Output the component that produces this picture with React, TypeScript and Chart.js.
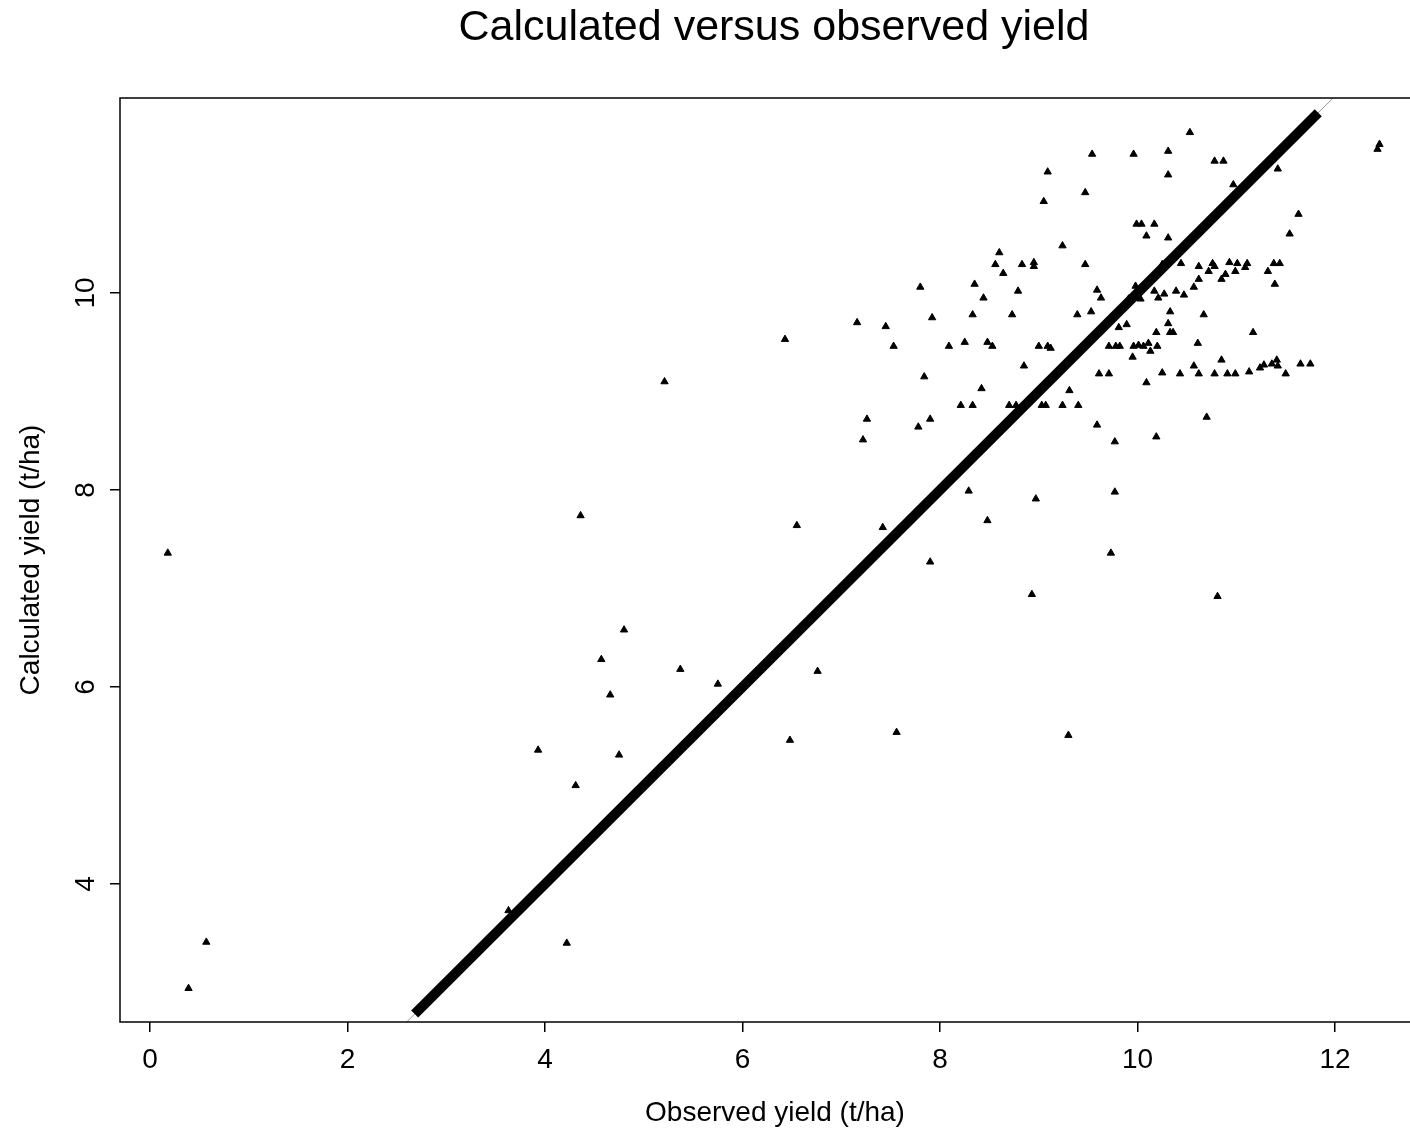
import React, { useEffect, useRef } from "react";
import { Chart, registerables } from "chart.js";

Chart.register(...registerables);

// Observed yield (t/ha) for each field record
const observed = [
  0.18, 0.39, 0.57, 3.63, 3.93, 4.22, 4.31, 4.36, 4.57, 4.66,
  4.75, 4.80, 5.21, 5.37, 5.75, 6.43, 6.48, 6.55, 6.76, 7.16,
  7.22, 7.26, 7.42, 7.45, 7.53, 7.56, 7.78, 7.80, 7.84, 7.90,
  7.92, 7.90, 8.09, 8.21, 8.25, 8.29, 8.33, 8.33, 8.35, 8.42,
  8.44, 8.48, 8.53, 8.48, 8.56, 8.60, 8.64, 8.70, 8.73, 8.77,
  8.79, 8.83, 8.85, 8.95, 8.95, 8.93, 8.97, 9.00, 9.03, 9.07,
  9.05, 9.09, 9.09, 9.12, 9.24, 9.24, 9.31, 9.30, 9.39, 9.40,
  9.47, 9.47, 9.53, 9.54, 9.59, 9.59, 9.61, 9.63, 9.71, 9.71,
  9.73, 9.73, 9.77, 9.77, 9.78, 9.81, 9.82, 9.89, 9.91, 9.95,
  9.96, 9.96, 9.98, 9.99, 10.01, 10.03, 10.04, 10.06, 10.09, 10.09,
  10.11, 10.13, 10.17, 10.17, 10.19, 10.19, 10.20, 10.21, 10.25, 10.25,
  10.27, 10.31, 10.31, 10.31, 10.31, 10.33, 10.33, 10.36, 10.39, 10.44,
  10.43, 10.47, 10.53, 10.57, 10.57, 10.61, 10.62, 10.62, 10.62, 10.67,
  10.70, 10.72, 10.76, 10.78, 10.78, 10.78, 10.81, 10.85, 10.85, 10.87,
  10.89, 10.91, 10.93, 10.97, 10.99, 10.99, 11.01, 11.09, 11.11, 11.13,
  11.17, 11.24, 11.28, 11.32, 11.36, 11.38, 11.39, 11.41, 11.42, 11.42,
  11.44, 11.50, 11.54, 11.63, 11.65, 11.75, 12.45, 12.43,
];

// Calculated (modelled) yield (t/ha), same order as observed
const calculated = [
  7.36, 2.94, 3.41, 3.73, 5.36, 3.40, 5.00, 7.74, 6.28, 5.92,
  5.31, 6.58, 9.10, 6.18, 6.03, 9.53, 5.46, 7.64, 6.16, 9.70,
  8.51, 8.72, 7.62, 9.66, 9.46, 5.54, 8.64, 10.06, 9.15, 8.72,
  9.75, 7.27, 9.46, 8.86, 9.50, 7.99, 8.86, 9.78, 10.09, 9.03,
  9.95, 9.50, 9.46, 7.69, 10.29, 10.41, 10.20, 8.86, 9.78, 8.86,
  10.02, 10.29, 9.26, 10.31, 10.27, 6.94, 7.91, 9.46, 8.86, 8.86,
  10.93, 11.23, 9.46, 9.44, 10.48, 8.86, 9.01, 5.51, 9.78, 8.86,
  11.02, 10.29, 9.81, 11.41, 10.03, 8.66, 9.18, 9.95, 9.18, 9.46,
  9.75, 7.36, 7.98, 8.49, 9.46, 9.65, 9.46, 9.68, 9.94, 9.35,
  11.41, 9.46, 10.07, 10.70, 9.47, 9.94, 10.70, 9.46, 10.58, 9.09,
  9.49, 9.41, 10.70, 10.02, 8.54, 9.60, 9.46, 9.95, 10.29, 9.19,
  9.99, 11.44, 11.20, 10.56, 9.69, 9.81, 9.60, 9.60, 10.02, 10.30,
  9.18, 9.98, 11.63, 10.06, 9.26, 9.49, 9.18, 10.27, 10.14, 9.78,
  8.74, 10.22, 10.30, 9.18, 11.34, 10.27, 6.92, 10.14, 9.32, 11.34,
  10.19, 9.18, 10.31, 11.10, 10.22, 9.18, 10.30, 10.26, 10.30, 9.20,
  9.60, 9.24, 9.27, 10.22, 9.28, 10.30, 10.09, 9.32, 9.26, 11.26,
  10.30, 9.18, 10.60, 10.80, 9.28, 9.28, 11.51, 11.46,
];

// 1:1 reference line (extends across the whole plot, clipped to it)
const identityX = [-1, 14];
// Thick segment drawn along the 1:1 line
const segmentX = [2.68, 11.83];

const xTicks = [0, 2, 4, 6, 8, 10, 12];
const yTicks = [4, 6, 8, 10];

const TITLE = "Calculated versus observed yield";
const X_TITLE = "Observed yield (t/ha)";
const Y_TITLE = "Calculated yield (t/ha)";

const FONT = '"Liberation Sans", Arial, Helvetica, sans-serif';
const W = 1410;
const H = 1133;

const decorations = {
  id: "decorations",
  afterDraw(chart: any) {
    const { ctx, chartArea: a, scales } = chart;
    const ys = scales.y;
    ctx.save();
    // plot box (right edge runs past the canvas)
    ctx.strokeStyle = "#000";
    ctx.lineWidth = 1.5;
    ctx.strokeRect(a.left, a.top, a.right - a.left + 30, a.bottom - a.top);

    ctx.fillStyle = "#000";
    ctx.textAlign = "center";
    ctx.textBaseline = "middle";

    ctx.font = `43px ${FONT}`;
    ctx.fillText(TITLE, 774, 28);

    ctx.font = `28px ${FONT}`;
    ctx.fillText(X_TITLE, 775, 1113);

    ctx.save();
    ctx.translate(31, 560);
    ctx.rotate(-Math.PI / 2);
    ctx.fillText(Y_TITLE, 0, 0);
    ctx.restore();

    // y tick labels, parallel to the axis
    for (const v of yTicks) {
      ctx.save();
      ctx.translate(86, ys.getPixelForValue(v));
      ctx.rotate(-Math.PI / 2);
      ctx.fillText(String(v), 0, 0);
      ctx.restore();
    }
    ctx.restore();
  },
};

export default function App() {
  const ref = useRef<HTMLCanvasElement | null>(null);

  useEffect(() => {
    if (!ref.current) return;
    const chart = new Chart(ref.current, {
      type: "scatter",
      data: {
        datasets: [
          {
            type: "line",
            data: identityX.map((v) => ({ x: v, y: v })),
            borderColor: "#9a9a9a",
            borderWidth: 1,
            pointRadius: 0,
            order: 1,
          },
          {
            type: "line",
            data: segmentX.map((v) => ({ x: v, y: v })),
            borderColor: "#000",
            borderWidth: 10,
            borderCapStyle: "butt",
            pointRadius: 0,
            order: 0,
          },
          {
            type: "scatter",
            data: observed.map((x, i) => ({ x, y: calculated[i] })),
            pointStyle: "triangle",
            pointRadius: 4.2,
            backgroundColor: "#000",
            borderColor: "#000",
            borderWidth: 1,
            order: 2,
          },
        ],
      },
      options: {
        animation: false,
        responsive: false,
        maintainAspectRatio: false,
        layout: { autoPadding: false, padding: { top: 98, left: 0, right: 0, bottom: 0 } },
        plugins: {
          legend: { display: false },
          title: { display: false },
          tooltip: { enabled: false },
        },
        scales: {
          x: {
            type: "linear",
            min: -0.304,
            max: 12.759,
            afterBuildTicks: (s: any) => {
              s.ticks = xTicks.map((v) => ({ value: v }));
            },
            afterFit: (s: any) => {
              s.height = H - 1022;
              s.paddingLeft = 0;
              s.paddingRight = 0;
            },
            border: { display: false },
            grid: {
              drawOnChartArea: false,
              drawTicks: true,
              tickLength: 10,
              color: "#000",
              lineWidth: 1.5,
            },
            ticks: {
              color: "#000",
              font: { family: FONT, size: 28 },
              padding: 11,
              maxRotation: 0,
              autoSkip: false,
            },
          },
          y: {
            type: "linear",
            min: 2.599,
            max: 11.98,
            afterBuildTicks: (s: any) => {
              s.ticks = yTicks.map((v) => ({ value: v }));
            },
            afterFit: (s: any) => {
              s.width = 120;
              s.paddingTop = 0;
              s.paddingBottom = 0;
            },
            border: { display: false },
            grid: {
              drawOnChartArea: false,
              drawTicks: true,
              tickLength: 10,
              color: "#000",
              lineWidth: 1.5,
            },
            ticks: { display: false },
          },
        },
      },
      plugins: [decorations],
    });
    return () => chart.destroy();
  }, []);

  return (
    <div
      style={{
        position: "fixed",
        left: 0,
        top: 0,
        width: W,
        height: H,
        background: "#fff",
      }}
    >
      <canvas ref={ref} width={W} height={H} style={{ display: "block" }} />
    </div>
  );
}
